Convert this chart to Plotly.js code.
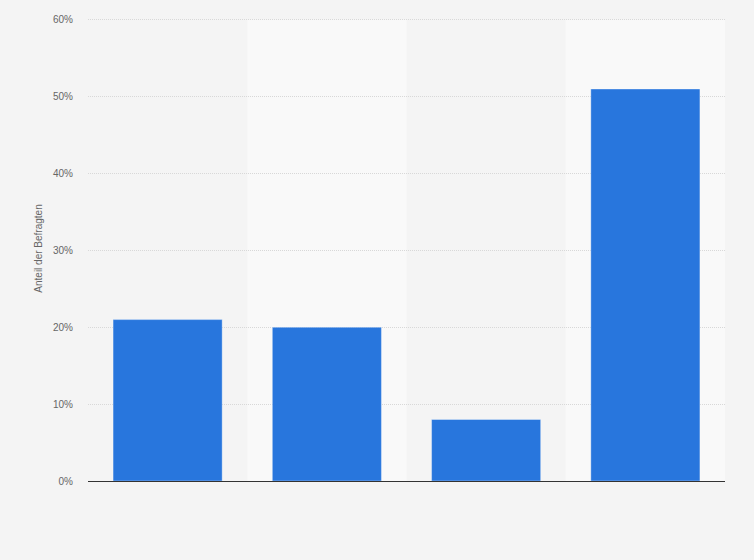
<!DOCTYPE html>
<html>
<head>
<meta charset="utf-8">
<script src="https://cdn.plot.ly/plotly-3.0.1.min.js"></script>
<style>
  html, body { margin: 0; padding: 0; background: #f4f4f4; }
  #plot { width: 754px; height: 560px; }
</style>
</head>
<body>
<div id="plot"></div>
<script>
var categories = ['A', 'B', 'C', 'D'];
var shares = [21, 20, 8, 51];
var yTicks = [0, 10, 20, 30, 40, 50, 60];
var yTickLabels = ['0%', '10%', '20%', '30%', '40%', '50%', '60%'];
var yMax = 60;

// lighter background band behind every second column
var bands = [];
categories.forEach(function (c, i) {
  if (i % 2 === 1) {
    bands.push({
      type: 'rect', xref: 'x', yref: 'y', layer: 'below',
      x0: i - 0.5, x1: i + 0.5, y0: 0, y1: yMax,
      fillcolor: '#f9f9f9', line: { width: 0 }
    });
  }
});

var data = [{
  type: 'bar',
  x: categories,
  y: shares,
  marker: { color: '#2876dd', line: { color: 'rgba(255,255,255,0.35)', width: 1 } },
  hoverinfo: 'none'
}];

var layout = {
  width: 754,
  height: 560,
  paper_bgcolor: '#f4f4f4',
  plot_bgcolor: '#f4f4f4',
  margin: { l: 88, r: 29, t: 16, b: 79 },
  bargap: 0.315,
  showlegend: false,
  font: { family: '"Liberation Sans", Arial, sans-serif', color: '#666' },
  xaxis: {
    type: 'category',
    showticklabels: false,
    showgrid: false,
    ticks: '',
    showline: true,
    linecolor: '#333',
    linewidth: 1
  },
  yaxis: {
    range: [0, yMax + 0.5],
    tickvals: yTicks,
    ticktext: yTickLabels,
    tickfont: { size: 10, color: '#666' },
    ticklabelstandoff: 14,
    showgrid: true,
    gridcolor: '#d8d8d8',
    griddash: '1px,1px',
    gridwidth: 1,
    zeroline: false,
    title: { text: 'Anteil der Befragten', font: { size: 10, color: '#666' }, standoff: 8 }
  },
  shapes: bands
};

Plotly.newPlot('plot', data, layout, { displayModeBar: false, staticPlot: true });
</script>
</body>
</html>
